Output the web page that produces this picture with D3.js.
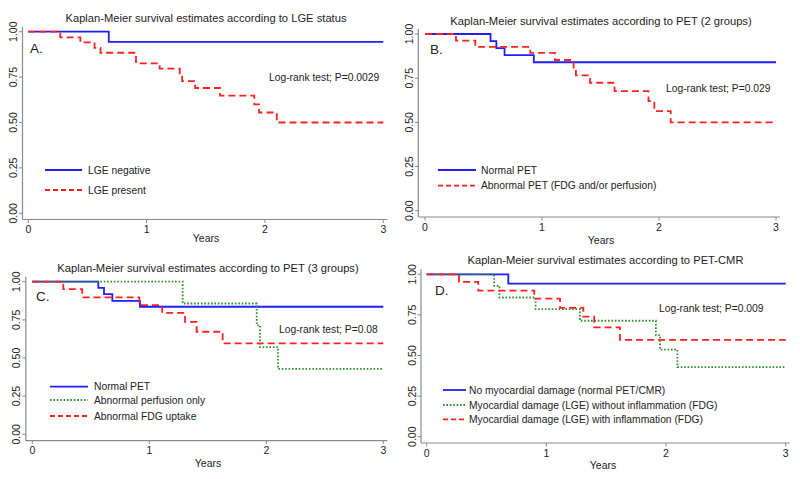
<!DOCTYPE html>
<html><head><meta charset="utf-8">
<script src="https://cdn.jsdelivr.net/npm/d3@7"></script>
<style>
body{margin:0;background:#fff}
svg{display:block}
text{font-family:"Liberation Sans",Arial,Helvetica,sans-serif;fill:#222}
</style>
</head><body>
<svg id="c" width="800" height="479"></svg>
<script>
// ---------------- data ----------------
const xTicks = [0, 1, 2, 3];
const yTicks = [0, 0.25, 0.5, 0.75, 1];
const yTickLabels = ["0.00", "0.25", "0.50", "0.75", "1.00"];
const xAxisLabel = "Years";

const titles = [
  "Kaplan-Meier survival estimates according to LGE status",
  "Kaplan-Meier survival estimates according to PET (2 groups)",
  "Kaplan-Meier survival estimates according to PET (3 groups)",
  "Kaplan-Meier survival estimates according to PET-CMR"
];
const panelLetters = ["A.", "B.", "C.", "D."];
const logRankTexts = [
  "Log-rank test; P=0.0029",
  "Log-rank test; P=0.029",
  "Log-rank test; P=0.08",
  "Log-rank test; P=0.009"
];

const legendA = ["LGE negative", "LGE present"];
const legendB = ["Normal PET", "Abnormal PET (FDG and/or perfusion)"];
const legendC = ["Normal PET", "Abnormal perfusion only", "Abnormal FDG uptake"];
const legendD = ["No myocardial damage (normal PET/CMR)",
                 "Myocardial damage (LGE) without inflammation (FDG)",
                 "Myocardial damage (LGE) with inflammation (FDG)"];

// Panel A
const aNegTime = [0, 0.68, 3];
const aNegSurv = [1, 0.944, 0.944];
const aPresTime = [0, 0.27, 0.44, 0.56, 0.61, 0.91, 1.11, 1.28, 1.30, 1.41, 1.62, 1.91, 1.95, 2.10, 3];
const aPresSurv = [1, 0.969, 0.941, 0.911, 0.884, 0.826, 0.797, 0.761, 0.728, 0.690, 0.648, 0.600, 0.555, 0.500, 0.500];

// Panel B
const bNormTime = [0, 0.56, 0.61, 0.68, 0.93, 3];
const bNormSurv = [1, 0.96, 0.92, 0.88, 0.84, 0.84];
const bAbnTime = [0, 0.265, 0.43, 0.90, 1.11, 1.27, 1.29, 1.41, 1.62, 1.91, 1.96, 2.10, 3];
const bAbnSurv = [1, 0.962, 0.927, 0.893, 0.853, 0.81, 0.766, 0.724, 0.677, 0.620, 0.564, 0.500, 0.500];

// Panel C
const cNormTime = [0, 0.564, 0.613, 0.684, 0.92, 3];
const cNormSurv = [1, 0.96, 0.918, 0.875, 0.836, 0.836];
const cPerfTime = [0, 1.285, 1.918, 1.946, 2.10, 3];
const cPerfSurv = [1, 0.857, 0.714, 0.571, 0.429, 0.429];
const cFdgTime = [0, 0.265, 0.427, 0.915, 1.11, 1.305, 1.405, 1.627, 3];
const cFdgSurv = [1, 0.951, 0.897, 0.847, 0.796, 0.737, 0.672, 0.596, 0.596];

// Panel D
const dNoneTime = [0, 0.682, 3];
const dNoneSurv = [1, 0.943, 0.943];
const dNoInflTime = [0, 0.564, 0.608, 0.91, 1.28, 1.915, 1.95, 2.095, 3];
const dNoInflSurv = [1, 0.929, 0.857, 0.786, 0.714, 0.625, 0.536, 0.429, 0.429];
const dInflTime = [0, 0.27, 0.431, 0.899, 1.114, 1.309, 1.40, 1.615, 3];
const dInflSurv = [1, 0.953, 0.90, 0.85, 0.793, 0.739, 0.673, 0.596, 0.596];

// ---------------- styles & layout ----------------
const styles = {
  solid: {color: "#1f1fff", dash: null, legendDash: null, width: 1.8},
  dash:  {color: "#ff2020", dash: "7,4", legendDash: "5,3", width: 1.8},
  dot:   {color: "#2e8f2e", dash: "1.6,1.8", legendDash: "1.6,1.8", width: 1.8}
};

const zip = (t, s) => t.map((v, i) => ({t: v, s: s[i]}));

const panels = [
  {
    title: titles[0], letter: panelLetters[0], p: logRankTexts[0],
    series: [
      {name: legendA[0], pts: zip(aNegTime, aNegSurv), style: "solid"},
      {name: legendA[1], pts: zip(aPresTime, aPresSurv), style: "dash"}
    ],
    g: {ax: 22.5, x0: 28.3, x1: 383.3, y0: 213.3, y1: 31.7, ay: 219.5,
        title: [206, 22], letterPos: [30, 52.5], pPos: [269, 80.5],
        leg: {x1: 45, x2: 82, tx: 88, ys: [170, 190]}, years: [206, 241.5]}
  },
  {
    title: titles[1], letter: panelLetters[1], p: logRankTexts[1],
    series: [
      {name: legendB[0], pts: zip(bNormTime, bNormSurv), style: "solid"},
      {name: legendB[1], pts: zip(bAbnTime, bAbnSurv), style: "dash"}
    ],
    g: {ax: 418.3, x0: 425, x1: 776, y0: 210.7, y1: 34, ay: 217,
        title: [601, 24.5], letterPos: [430, 54], pPos: [666, 91.5],
        leg: {x1: 438, x2: 476, tx: 481, ys: [170, 185.7]}, years: [601, 244]}
  },
  {
    title: titles[2], letter: panelLetters[2], p: logRankTexts[2],
    series: [
      {name: legendC[0], pts: zip(cNormTime, cNormSurv), style: "solid"},
      {name: legendC[1], pts: zip(cPerfTime, cPerfSurv), style: "dot"},
      {name: legendC[2], pts: zip(cFdgTime, cFdgSurv), style: "dash"}
    ],
    g: {ax: 25.8, x0: 32.3, x1: 383.3, y0: 434.3, y1: 281.7, ay: 440.7,
        title: [208, 272], letterPos: [36, 301], pPos: [279, 332.5],
        leg: {x1: 50, x2: 88, tx: 94, ys: [386.7, 400, 416]}, years: [208, 467]}
  },
  {
    title: titles[3], letter: panelLetters[3], p: logRankTexts[3],
    series: [
      {name: legendD[0], pts: zip(dNoneTime, dNoneSurv), style: "solid"},
      {name: legendD[1], pts: zip(dNoInflTime, dNoInflSurv), style: "dot"},
      {name: legendD[2], pts: zip(dInflTime, dInflSurv), style: "dash"}
    ],
    g: {ax: 421, x0: 426.7, x1: 785.7, y0: 436.7, y1: 274.3, ay: 443,
        title: [605.5, 264], letterPos: [435, 294.5], pPos: [659, 311.5],
        leg: {x1: 443, x2: 466, tx: 469, ys: [390, 405, 419.3]}, years: [603, 469]}
  }
];

const svg = d3.select("#c");
svg.append("rect").attr("width", 800).attr("height", 479).attr("fill", "#fff");

const axisColor = "#8a8a8a";

panels.forEach(pn => {
  const g = pn.g;
  const x = d3.scaleLinear().domain([0, 3]).range([g.x0, g.x1]);
  const y = d3.scaleLinear().domain([0, 1]).range([g.y0, g.y1]);
  const grp = svg.append("g");

  // y axis
  const yAx = grp.append("g").attr("transform", `translate(${g.ax},0)`);
  yAx.append("line").attr("x1", 0).attr("x2", 0)
     .attr("y1", g.y1 - 5).attr("y2", g.ay)
     .attr("stroke", axisColor).attr("stroke-width", 1.2);
  yTicks.forEach((v, i) => {
    yAx.append("line").attr("x1", -3.5).attr("x2", 0)
       .attr("y1", y(v)).attr("y2", y(v))
       .attr("stroke", axisColor).attr("stroke-width", 1);
    yAx.append("text")
       .attr("transform", `translate(-5.5,${y(v)}) rotate(-90)`)
       .attr("text-anchor", "middle")
       .attr("font-size", "10.5px")
       .text(yTickLabels[i]);
  });

  // x axis
  const xAx = grp.append("g").attr("transform", `translate(0,${g.ay})`);
  xAx.append("line").attr("x1", g.ax).attr("x2", g.x1 + 4)
     .attr("y1", 0).attr("y2", 0)
     .attr("stroke", axisColor).attr("stroke-width", 1.2);
  xTicks.forEach(v => {
    xAx.append("line").attr("x1", x(v)).attr("x2", x(v))
       .attr("y1", 0).attr("y2", 3.5)
       .attr("stroke", axisColor).attr("stroke-width", 1);
    xAx.append("text").attr("x", x(v)).attr("y", 13.5)
       .attr("text-anchor", "middle").attr("font-size", "10.5px")
       .text(d3.format("d")(v));
  });
  grp.append("text").attr("x", g.years[0]).attr("y", g.years[1])
     .attr("text-anchor", "middle").attr("font-size", "10.5px").text(xAxisLabel);

  // title
  grp.append("text").attr("x", g.title[0]).attr("y", g.title[1])
     .attr("text-anchor", "middle").attr("font-size", "11.2px").text(pn.title);

  // panel letter
  grp.append("text").attr("x", g.letterPos[0]).attr("y", g.letterPos[1])
     .attr("font-size", "13.5px").text(pn.letter);

  // log-rank
  grp.append("text").attr("x", g.pPos[0]).attr("y", g.pPos[1])
     .attr("font-size", "10.3px").text(pn.p);

  // curves
  const line = d3.line().x(d => x(d.t)).y(d => y(d.s)).curve(d3.curveStepAfter);
  pn.series.forEach(s => {
    const st = styles[s.style];
    grp.append("path").datum(s.pts).attr("d", line)
       .attr("fill", "none").attr("stroke", st.color)
       .attr("stroke-width", st.width)
       .attr("stroke-dasharray", st.dash);
  });

  // legend
  pn.series.forEach((s, i) => {
    const st = styles[s.style];
    const ly = g.leg.ys[i];
    grp.append("line").attr("x1", g.leg.x1).attr("x2", g.leg.x2)
       .attr("y1", ly).attr("y2", ly)
       .attr("stroke", st.color).attr("stroke-width", st.width)
       .attr("stroke-dasharray", st.legendDash);
    grp.append("text").attr("x", g.leg.tx).attr("y", ly + 3.7)
       .attr("font-size", "10.3px").text(s.name);
  });
});
</script>
</body></html>
